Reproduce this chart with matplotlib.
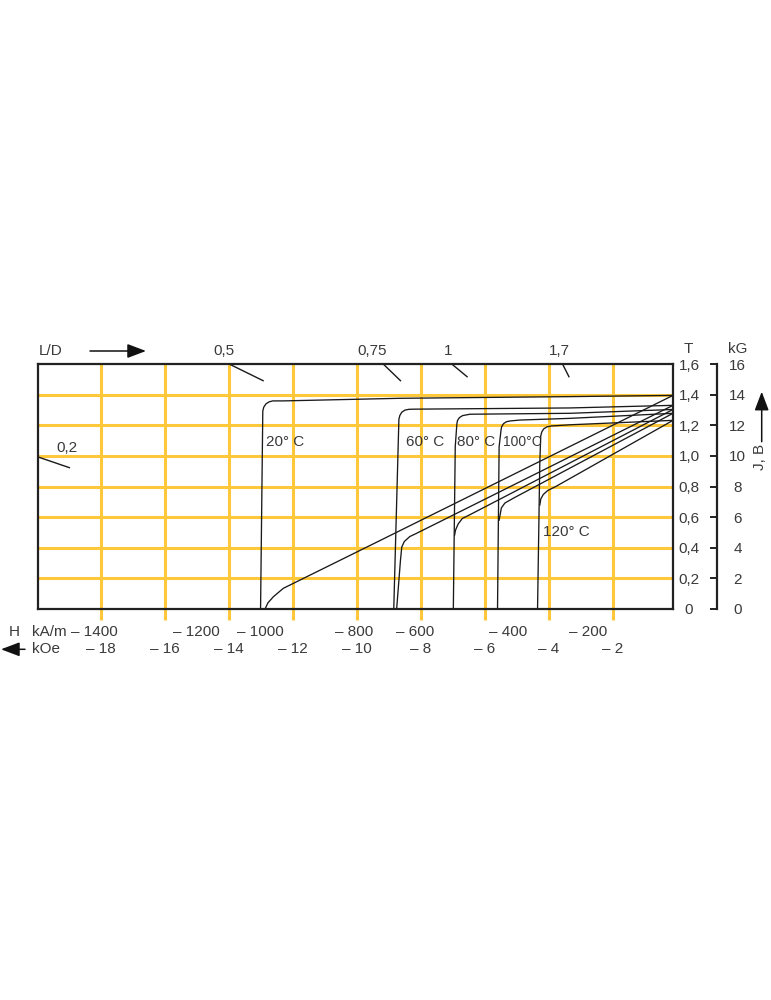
import matplotlib
matplotlib.use("Agg")
import matplotlib.pyplot as plt

plt.rcParams["font.family"] = ["Liberation Sans", "DejaVu Sans"]

TXT = "#3a3a3a"
YEL = "#FFC83A"
FS = 11

# demagnetisation curves: H in kOe, J and B in T
temps = ["20° C", "60° C", "80° C", "100°C", "120° C"]

j20_h = [-0.13, -3.35, -8.66, -12.30, -12.63, -12.74, -12.84, -12.91, -12.94, -13.01]
j20_v = [1.395, 1.387, 1.376, 1.359, 1.359, 1.353, 1.340, 1.318, 1.293, 0.0]
b20_h = [-0.13, -9.29, -12.30, -12.61, -12.78, -12.87]
b20_v = [1.395, 0.446, 0.135, 0.080, 0.040, 0.0]

j60_h = [-0.13, -3.35, -8.24, -8.38, -8.50, -8.60, -8.66, -8.69, -8.85]
j60_v = [1.330, 1.313, 1.305, 1.304, 1.299, 1.285, 1.264, 1.239, 0.0]
b60_h = [-0.13, -8.14, -8.35, -8.52, -8.60, -8.64, -8.76]
b60_v = [1.330, 0.494, 0.473, 0.441, 0.405, 0.320, 0.0]

j80_h = [-0.13, -3.35, -6.47, -6.60, -6.70, -6.80, -6.86, -6.88, -6.93, -6.99]
j80_v = [1.303, 1.278, 1.272, 1.267, 1.263, 1.250, 1.231, 1.208, 1.060, 0.0]
b80_h = [-0.13, -3.35, -6.47, -6.71, -6.84, -6.92, -6.95]
b80_v = [1.303, 0.954, 0.616, 0.591, 0.555, 0.516, 0.483]

j100_h = [-0.13, -3.35, -4.91, -5.22, -5.33, -5.42, -5.48, -5.50, -5.56, -5.61]
j100_v = [1.278, 1.245, 1.234, 1.228, 1.223, 1.211, 1.191, 1.169, 1.060, 0.0]
b100_h = [-0.13, -3.35, -5.12, -5.38, -5.49, -5.53, -5.56]
b100_v = [1.278, 0.920, 0.723, 0.692, 0.660, 0.614, 0.580]

j120_h = [-0.13, -3.35, -3.94, -4.06, -4.17, -4.23, -4.26, -4.29, -4.36]
j120_v = [1.232, 1.203, 1.195, 1.190, 1.176, 1.155, 1.130, 0.952, 0.0]
b120_h = [-0.13, -3.79, -4.04, -4.18, -4.26, -4.29]
b120_v = [1.232, 0.800, 0.774, 0.748, 0.718, 0.679]

# where the temperature labels sit (H, J)
temp_lab_h = [-12.84, -8.46, -6.86, -5.45, -4.18]
temp_lab_v = [1.091, 1.093, 1.093, 1.093, 0.501]

# L/D load line marks (start on the frame, end inside)
ld_labels = ["0,2", "0,5", "0,75", "1", "1,7"]
ld_h0 = [-19.96, -13.99, -9.18, -7.04, -3.58]
ld_b0 = [0.993, 1.6, 1.6, 1.6, 1.6]
ld_h1 = [-18.98, -12.93, -8.64, -6.56, -3.38]
ld_b1 = [0.923, 1.491, 1.491, 1.517, 1.517]
ld_lab_h = [-19.38, -14.14, -9.53, -7.16, -3.69]
ld_lab_v = [1.05, 1.685, 1.685, 1.685, 1.685]

# axis ticks
koe_ticks = [-18, -16, -14, -12, -10, -8, -6, -4, -2]
kam_labels = [-1400, -1200, -1000, -800, -600, -400, -200]
kam_pos = [-18.20, -15.00, -13.00, -10.09, -8.19, -5.29, -2.79]
t_ticks = [0, 0.2, 0.4, 0.6, 0.8, 1.0, 1.2, 1.4, 1.6]
kg_ticks = [0, 2, 4, 6, 8, 10, 12, 14, 16]

W, H = 771, 1000


def fx(px):
    return px / W


def fy(py):
    return 1 - py / H


def t_label(t):
    return "0" if t == 0 else f"{t:.1f}".replace(".", ",")


fig = plt.figure(figsize=(7.71, 10), dpi=100)
ax = fig.add_axes([fx(38), fy(609), (673 - 38) / W, (609 - 364) / H])
x0, x1 = -19.96, -0.13
ax.set_xlim(x0, x1)
ax.set_ylim(0, 1.6)

# yellow grid
ax.vlines(koe_ticks, -0.072, 1.6, colors=YEL, lw=2.2, clip_on=False, zorder=1)
ax.hlines(t_ticks[1:-1], x0, x1, colors=YEL, lw=2.2, zorder=1)

curves = [(j20_h, j20_v, b20_h, b20_v), (j60_h, j60_v, b60_h, b60_v),
          (j80_h, j80_v, b80_h, b80_v), (j100_h, j100_v, b100_h, b100_v),
          (j120_h, j120_v, b120_h, b120_v)]
for jh, jv, bh, bv in curves:
    ax.plot(jh, jv, color="#1a1a1a", lw=0.95, zorder=3)
    ax.plot(bh, bv, color="#1a1a1a", lw=0.95, zorder=3)

for t, lh, lv in zip(temps, temp_lab_h, temp_lab_v):
    fsz = 10 if t == "100°C" else FS
    ax.text(lh, lv, t, ha="left", va="center", fontsize=fsz, color=TXT, zorder=4)

for lab, h0, b0, h1, b1, lh, lv in zip(ld_labels, ld_h0, ld_b0, ld_h1, ld_b1,
                                       ld_lab_h, ld_lab_v):
    ax.plot([h0, h1], [b0, b1], color="#1a1a1a", lw=1.0, clip_on=False, zorder=3)
    ha = "left" if lab == "0,2" else "center"
    ax.text(lh, lv, lab, ha=ha, va="center", fontsize=FS, color=TXT, clip_on=False)

for s in ax.spines.values():
    s.set_linewidth(1.6)
    s.set_color("#222222")
    s.set_zorder(5)

# x labels below the frame
ax.set_xticks([])
for k in koe_ticks:
    ax.text(k, -0.263, f"– {abs(k)}", ha="center", va="center", fontsize=FS, color=TXT)
for v, p in zip(kam_labels, kam_pos):
    ax.text(p, -0.148, f"– {abs(v)}", ha="center", va="center", fontsize=FS, color=TXT)

# T scale on the right
ax.yaxis.tick_right()
ax.set_yticks(t_ticks, labels=[t_label(t) for t in t_ticks])
ax.tick_params(axis="y", length=0, pad=11.5, labelsize=FS, labelcolor=TXT)
for lbl in ax.get_yticklabels():
    lbl.set_horizontalalignment("center")

# kG scale
sec = ax.secondary_yaxis((717 - 38) / (673 - 38),
                         functions=(lambda t: t * 10, lambda g: g / 10))
sec.set_yticks(kg_ticks, labels=[str(k) for k in kg_ticks])
sec.tick_params(axis="y", direction="in", length=5, width=1.4, pad=14.8,
                labelsize=FS, labelcolor=TXT, color="#222222")
sec.spines["right"].set_linewidth(1.6)
sec.spines["right"].set_color("#222222")
for lbl in sec.get_yticklabels():
    lbl.set_horizontalalignment("center")

# headers and arrows
fig.text(fx(39), fy(351), "L/D", ha="left", va="center", fontsize=FS, color=TXT)
fig.text(fx(688), fy(349), "T", ha="center", va="center", fontsize=FS, color=TXT)
fig.text(fx(737.5), fy(349), "kG", ha="center", va="center", fontsize=FS, color=TXT)
fig.text(fx(760), fy(457), "J, B", ha="center", va="center", rotation=90,
         fontsize=FS, color=TXT)
fig.text(fx(14), fy(631.7), "H", ha="center", va="center", fontsize=FS, color=TXT)
fig.text(fx(32), fy(631.7), "kA/m", ha="left", va="center", fontsize=FS, color=TXT)
fig.text(fx(32), fy(649.3), "kOe", ha="left", va="center", fontsize=FS, color=TXT)

arrow = dict(arrowstyle="-|>,head_length=0.95,head_width=0.36", color="#111111",
             lw=1.1, mutation_scale=12, shrinkA=0, shrinkB=0)
ax.annotate("", xy=(fx(146), fy(351)), xytext=(fx(90), fy(351)),
            xycoords="figure fraction", textcoords="figure fraction", arrowprops=arrow)
ax.annotate("", xy=(fx(761.7), fy(391.7)), xytext=(fx(761.7), fy(441.7)),
            xycoords="figure fraction", textcoords="figure fraction", arrowprops=arrow)
ax.annotate("", xy=(fx(1), fy(649.3)), xytext=(fx(25), fy(649.3)),
            xycoords="figure fraction", textcoords="figure fraction", arrowprops=arrow)

fig.savefig("out.png", dpi=100, facecolor="white")
